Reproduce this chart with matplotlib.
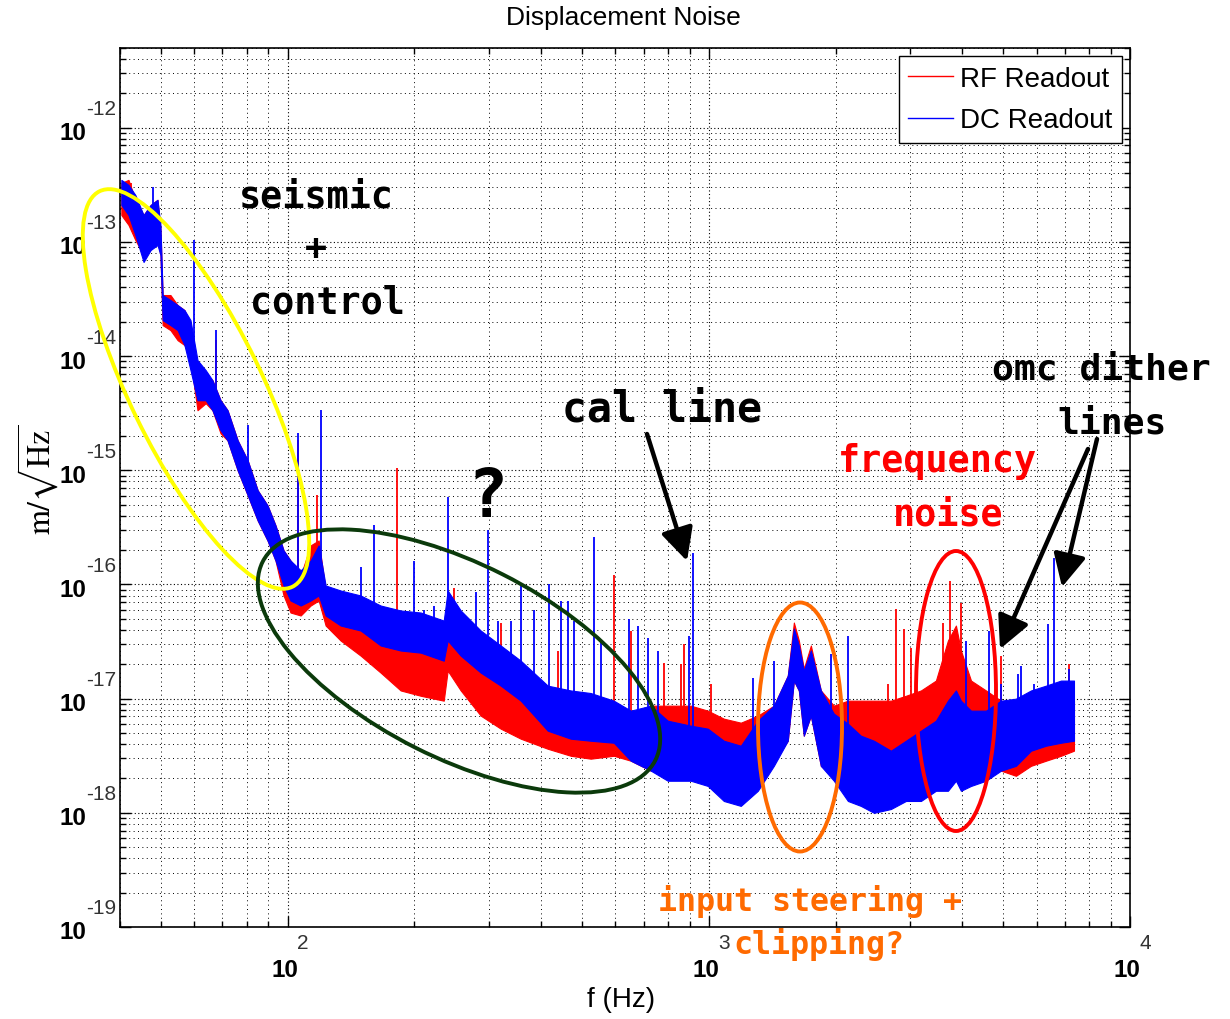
import numpy as np
import matplotlib
matplotlib.use('Agg')
import matplotlib.pyplot as plt
from matplotlib.patches import Ellipse
from matplotlib.lines import Line2D
from matplotlib.ticker import FixedLocator, LogLocator, NullFormatter
from matplotlib.transforms import blended_transform_factory, offset_copy

# ---------------- data ----------------
freq = [40.3, 41.9, 43.5, 45.5, 47.3, 49.1, 49.9, 50.5, 52.7, 54.8,
        56.9, 58.8, 61.1, 63.9, 66.3, 69.3, 72.0, 76.1, 80.4, 84.9,
        89.6, 93.6, 97.8, 101.6, 107.4, 113.4, 118.5, 123.1, 133.6, 149.1,
        166.3, 185.5, 207.0, 234.8, 239.9, 257.6, 287.4, 320.6, 357.7, 414.6,
        470.1, 524.4, 594.9, 652.9, 728.4, 799.0, 906.2, 994.5, 1085.6, 1191.2,
        1307.5, 1427, 1540, 1592, 1636, 1681, 1747, 1845, 1981, 2139,
        2296, 2466, 2706, 2938, 3189, 3461, 3696, 3861, 3968, 4193,
        4550, 4939, 5360, 5819, 6317, 6857, 7362]

dc_hi = [3.50e-13, 3.16e-13, 2.58e-13, 1.72e-13, 2.11e-13, 2.34e-13, 1.41e-13, 3.43e-14, 3.10e-14, 2.80e-14,
         2.53e-14, 2.07e-14, 9.22e-15, 7.54e-15, 6.16e-15, 4.11e-15, 3.36e-15, 1.83e-15, 1.22e-15, 6.68e-16,
         4.93e-16, 3.29e-16, 1.99e-16, 1.62e-16, 1.33e-16, 1.62e-16, 2.20e-16, 9.80e-17, 8.86e-17, 8.01e-17,
         6.54e-17, 5.92e-17, 5.68e-17, 4.83e-17, 8.86e-17, 5.92e-17, 3.95e-17, 2.92e-17, 2.15e-17, 1.30e-17,
         1.18e-17, 1.12e-17, 9.60e-18, 7.85e-18, 8.68e-18, 6.41e-18, 5.80e-18, 5.46e-18, 4.28e-18, 3.87e-18,
         6.41e-18, 8.68e-18, 1.59e-17, 4.11e-17, 2.92e-17, 1.76e-17, 2.64e-17, 1.18e-17, 7.39e-18, 6.04e-18,
         4.74e-18, 4.28e-18, 3.50e-18, 4.28e-18, 5.24e-18, 6.41e-18, 9.60e-18, 1.18e-17, 9.60e-18, 7.85e-18,
         7.85e-18, 9.60e-18, 1.00e-17, 1.18e-17, 1.30e-17, 1.44e-17, 1.44e-17]

dc_lo = [2.11e-13, 1.72e-13, 1.15e-13, 6.68e-14, 8.51e-14, 9.41e-14, 7.69e-14, 2.07e-14, 1.87e-14, 1.69e-14,
         1.25e-14, 7.54e-15, 4.11e-15, 4.11e-15, 3.36e-15, 2.24e-15, 1.83e-15, 1.00e-15, 6.04e-16, 3.64e-16,
         2.43e-16, 1.62e-16, 9.80e-17, 7.24e-17, 6.54e-17, 7.24e-17, 8.01e-17, 5.35e-17, 4.37e-17, 3.95e-17,
         2.92e-17, 2.64e-17, 2.53e-17, 2.15e-17, 3.23e-17, 2.38e-17, 1.69e-17, 1.30e-17, 9.60e-18, 5.24e-18,
         4.46e-18, 4.28e-18, 4.11e-18, 2.86e-18, 2.34e-18, 1.91e-18, 1.91e-18, 1.72e-18, 1.27e-18, 1.15e-18,
         1.56e-18, 2.58e-18, 4.28e-18, 1.44e-17, 1.18e-17, 4.74e-18, 7.10e-18, 2.58e-18, 1.91e-18, 1.27e-18,
         1.15e-18, 1.00e-18, 1.08e-18, 1.27e-18, 1.27e-18, 1.56e-18, 1.56e-18, 1.91e-18, 1.56e-18, 1.72e-18,
         1.91e-18, 2.34e-18, 2.58e-18, 3.50e-18, 3.87e-18, 4.11e-18, 4.28e-18]

rf_hi = [3.29e-13, 3.50e-13, 2.34e-13, 1.72e-13, 2.11e-13, 2.34e-13, 1.27e-13, 3.43e-14, 3.43e-14, 2.80e-14,
         2.53e-14, 1.87e-14, 7.54e-15, 6.81e-15, 6.16e-15, 4.11e-15, 3.36e-15, 1.83e-15, 1.22e-15, 6.68e-16,
         4.93e-16, 3.29e-16, 1.99e-16, 1.62e-16, 1.20e-16, 2.20e-16, 2.43e-16, 8.86e-17, 7.24e-17, 5.35e-17,
         3.95e-17, 3.23e-17, 2.75e-17, 2.38e-17, 4.37e-17, 2.92e-17, 1.95e-17, 1.44e-17, 1.18e-17, 8.68e-18,
         7.54e-18, 7.10e-18, 7.10e-18, 7.10e-18, 8.68e-18, 8.68e-18, 8.68e-18, 7.85e-18, 6.68e-18, 6.16e-18,
         7.10e-18, 8.68e-18, 1.59e-17, 4.64e-17, 3.23e-17, 1.83e-17, 2.92e-17, 1.18e-17, 8.68e-18, 9.60e-18,
         9.60e-18, 9.60e-18, 9.60e-18, 1.06e-17, 1.18e-17, 1.44e-17, 3.23e-17, 4.37e-17, 2.64e-17, 1.44e-17,
         1.18e-17, 9.60e-18, 8.68e-18, 7.85e-18, 7.54e-18, 8.68e-18, 9.60e-18]

rf_lo = [1.72e-13, 1.41e-13, 1.04e-13, 7.69e-14, 9.41e-14, 1.04e-13, 7.69e-14, 1.87e-14, 1.69e-14, 1.38e-14,
         1.25e-14, 9.22e-15, 3.36e-15, 3.87e-15, 3.36e-15, 2.11e-15, 1.83e-15, 1.00e-15, 6.04e-16, 3.64e-16,
         2.43e-16, 1.62e-16, 8.01e-17, 5.68e-17, 5.35e-17, 6.54e-17, 7.24e-17, 4.37e-17, 3.23e-17, 2.38e-17,
         1.69e-17, 1.18e-17, 1.06e-17, 9.60e-18, 1.76e-17, 1.18e-17, 7.10e-18, 5.46e-18, 4.46e-18, 3.64e-18,
         3.16e-18, 2.98e-18, 3.16e-18, 2.86e-18, 2.34e-18, 3.87e-18, 4.28e-18, 3.87e-18, 2.86e-18, 2.75e-18,
         2.86e-18, 2.86e-18, 4.28e-18, 1.44e-17, 1.18e-17, 4.74e-18, 7.10e-18, 2.58e-18, 2.11e-18, 3.87e-18,
         3.87e-18, 3.64e-18, 3.50e-18, 3.87e-18, 4.28e-18, 4.74e-18, 6.41e-18, 7.10e-18, 5.80e-18, 4.28e-18,
         4.28e-18, 2.34e-18, 2.11e-18, 2.58e-18, 2.86e-18, 3.16e-18, 3.50e-18]

dc_spike_f = [47.8, 59.8, 67.5, 80.4, 105.6, 119.8, 149.1, 160.1, 199.2, 210.4,
              222.3, 239.9, 279.7, 298.7, 315.4, 338.6, 357.7, 384.0, 416.9, 445.1,
              462.5, 477.9, 533.1, 554.0, 645.7, 678.2, 716.5, 756.5, 896.5, 916.2,
              1272, 1427, 1949, 2139, 4079, 4625, 4939, 5420, 5509, 5916,
              6386, 6598, 7165]
dc_spike_v = [3.04e-13, 1.04e-13, 1.69e-14, 2.48e-15, 2.11e-15, 3.36e-15, 1.41e-16, 3.29e-16, 1.62e-16, 5.92e-17,
              6.54e-17, 5.80e-16, 8.51e-17, 2.98e-16, 4.83e-17, 4.83e-17, 1.04e-16, 5.92e-17, 1.02e-16, 7.24e-17,
              7.24e-17, 4.83e-17, 2.58e-16, 3.23e-17, 5.03e-17, 4.37e-17, 3.43e-17, 2.64e-17, 3.57e-17, 1.87e-16,
              1.53e-17, 2.15e-17, 2.48e-17, 3.57e-17, 3.23e-17, 3.95e-17, 1.35e-17, 1.66e-17, 1.95e-17, 1.35e-17,
              4.55e-17, 1.72e-16, 1.83e-17]

rf_spike_f = [42.4, 67.5, 105.6, 117.2, 181.5, 247.9, 320.6, 437.8, 594.9, 652.9,
              781.7, 857.9, 872.1, 1011, 2662, 2782, 2906, 3019, 3595, 3736,
              3968, 4939, 7165]
rf_spike_v = [3.29e-13, 1.38e-14, 1.83e-15, 6.04e-16, 1.04e-15, 9.41e-17, 4.64e-17, 2.64e-17, 1.20e-16, 3.95e-17,
              2.07e-17, 2.03e-17, 3.04e-17, 1.35e-17, 1.35e-17, 6.16e-17, 4.11e-17, 2.80e-17, 4.64e-17, 1.08e-16,
              6.95e-17, 2.38e-17, 2.03e-17]

series_labels = ['RF Readout', 'DC Readout']
series_colors = ['#FF0000', '#0000FF']
x_decades = [2, 3, 4]
y_decades = [-19, -18, -17, -16, -15, -14, -13, -12]

# ---------------- style ----------------
plt.rcParams['font.family'] = ['Liberation Sans', 'DejaVu Sans']

W, H = 1230, 1020
fig = plt.figure(figsize=(W / 100, H / 100), dpi=100)
ax = fig.add_axes([120 / W, 92 / H, 1010 / W, 879 / H])
ax.set_xscale('log')
ax.set_yscale('log')
ax.set_xlim(40, 1e4)
ax.set_ylim(1e-19, 5e-12)


def spikes(f, v, hi, color):
    base = 10 ** np.interp(np.log10(f), np.log10(freq), np.log10(hi))
    ax.vlines(f, base * 0.8, v, color=color, lw=1.3, zorder=3)


ax.fill_between(freq, rf_lo, rf_hi, color=series_colors[0], lw=0.8, zorder=2)
spikes(rf_spike_f, rf_spike_v, rf_hi, series_colors[0])
ax.fill_between(freq, dc_lo, dc_hi, color=series_colors[1], lw=0.8, zorder=3)
spikes(dc_spike_f, dc_spike_v, dc_hi, series_colors[1])

# ticks / grid
ax.xaxis.set_major_locator(FixedLocator([10.0 ** d for d in x_decades]))
ax.yaxis.set_major_locator(FixedLocator([10.0 ** d for d in y_decades]))
ax.xaxis.set_minor_locator(LogLocator(base=10, subs=np.arange(2, 10), numticks=30))
ax.yaxis.set_minor_locator(LogLocator(base=10, subs=np.arange(2, 10), numticks=60))
for a in (ax.xaxis, ax.yaxis):
    a.set_major_formatter(NullFormatter())
    a.set_minor_formatter(NullFormatter())
ax.tick_params(which='both', direction='in', top=True, right=True, width=1)
ax.tick_params(which='major', length=8)
ax.tick_params(which='minor', length=4)
ax.set_axisbelow(True)
ax.grid(True, which='major', ls=(0, (1, 2.2)), color='k', lw=0.8)
ax.grid(True, which='minor', ls=(0, (1, 3.5)), color='k', lw=0.7)
for s in ax.spines.values():
    s.set_linewidth(1.2)

# MATLAB-style tick labels: bold "10" with a separate exponent
ytr = blended_transform_factory(ax.transAxes, ax.transData)
for d in y_decades:
    ax.text(0, 10.0 ** d, '10', fontsize=17.5, weight='bold', ha='center', va='center',
            transform=offset_copy(ytr, fig, x=-47, y=-5, units='dots'))
    ax.text(0, 10.0 ** d, str(d), fontsize=15, color='0.2', ha='right', va='center',
            transform=offset_copy(ytr, fig, x=-4, y=19, units='dots'))
xtr = blended_transform_factory(ax.transData, ax.transAxes)
for d in x_decades:
    ax.text(10.0 ** d, 0, '10', fontsize=17.5, weight='bold', ha='center', va='center',
            transform=offset_copy(xtr, fig, x=-3, y=-43, units='dots'), clip_on=False)
    ax.text(10.0 ** d, 0, str(d), fontsize=15, color='0.2', ha='left', va='center',
            transform=offset_copy(xtr, fig, x=9, y=-16, units='dots'), clip_on=False)

# legend
handles = [Line2D([], [], color=c, lw=1.0) for c in series_colors]
leg = ax.legend(handles, series_labels, loc='upper right', fontsize=20, frameon=True,
                fancybox=False, edgecolor='k', framealpha=1, borderaxespad=0.3,
                handlelength=1.6, handletextpad=0.25, labelspacing=0.55, borderpad=0.35)
leg.get_frame().set_linewidth(1.0)
leg.set_zorder(10)

# titles / labels (positions in figure pixels, origin at top-left)
def fp(x, y):
    return x / W, 1 - y / H

fig.text(*fp(623, 18), 'Displacement Noise', fontsize=19, ha='center', va='center')
fig.text(*fp(621, 1000), 'f (Hz)', fontsize=20, ha='center', va='center')
fig.text(*fp(38, 480), r'$\mathrm{m}/\sqrt{\mathrm{Hz}}$', fontsize=23, rotation=90,
         ha='center', va='center', math_fontfamily='stix')

# annotations
mono = ['DejaVu Sans Mono']
def note(x, y, s, size, color='k'):
    fig.text(*fp(x, y), s, fontsize=size, color=color, family=mono, weight='bold',
             ha='center', va='center', zorder=20)

note(316, 197, 'seismic', 26.5)
note(316, 250, '+', 26.5)
note(327, 303, 'control', 26.5)
note(662, 410, 'cal line', 30)
note(487, 498, '?', 48)
note(937, 462, 'frequency', 26.5, '#FF0000')
note(948, 515, 'noise', 26.5, '#FF0000')
note(1101, 370, 'omc dither', 26.2, 'k')
note(1112, 423, 'lines', 26.2, 'k')
note(810, 902, 'input steering +', 22.8, '#FF6A00')
note(819, 945, 'clipping?', 22.8, '#FF6A00')

# ellipses (pixel geometry, converted to inches)
def ell(cx, cy, w, h, ang, color):
    e = Ellipse((cx / 100, (H - cy) / 100), w / 100, h / 100, angle=ang, fill=False,
                edgecolor=color, lw=2.8, transform=fig.dpi_scale_trans, zorder=15)
    fig.add_artist(e)

ell(196, 390, 440, 132, -64, '#FFFF00')
ell(459, 662, 440, 194, -26.8, '#0B3A0B')
ell(800, 728, 84, 249, 0, '#FF6A00')
ell(956, 692, 80, 280, 0, '#FF0000')

# arrows
def arrow(x0, y0, x1, y1):
    ax.annotate('', xy=(x1, H - y1), xytext=(x0, H - y0), xycoords='figure pixels',
                textcoords='figure pixels', annotation_clip=False,
                arrowprops=dict(arrowstyle='-|>,head_length=0.9,head_width=0.45', lw=3.2,
                                color='k', shrinkA=0, shrinkB=0, mutation_scale=22))

arrow(647, 435, 687, 562)
arrow(1088, 450, 1000, 650)
arrow(1097, 440, 1062, 588)

fig.savefig('out.png', dpi=100)
